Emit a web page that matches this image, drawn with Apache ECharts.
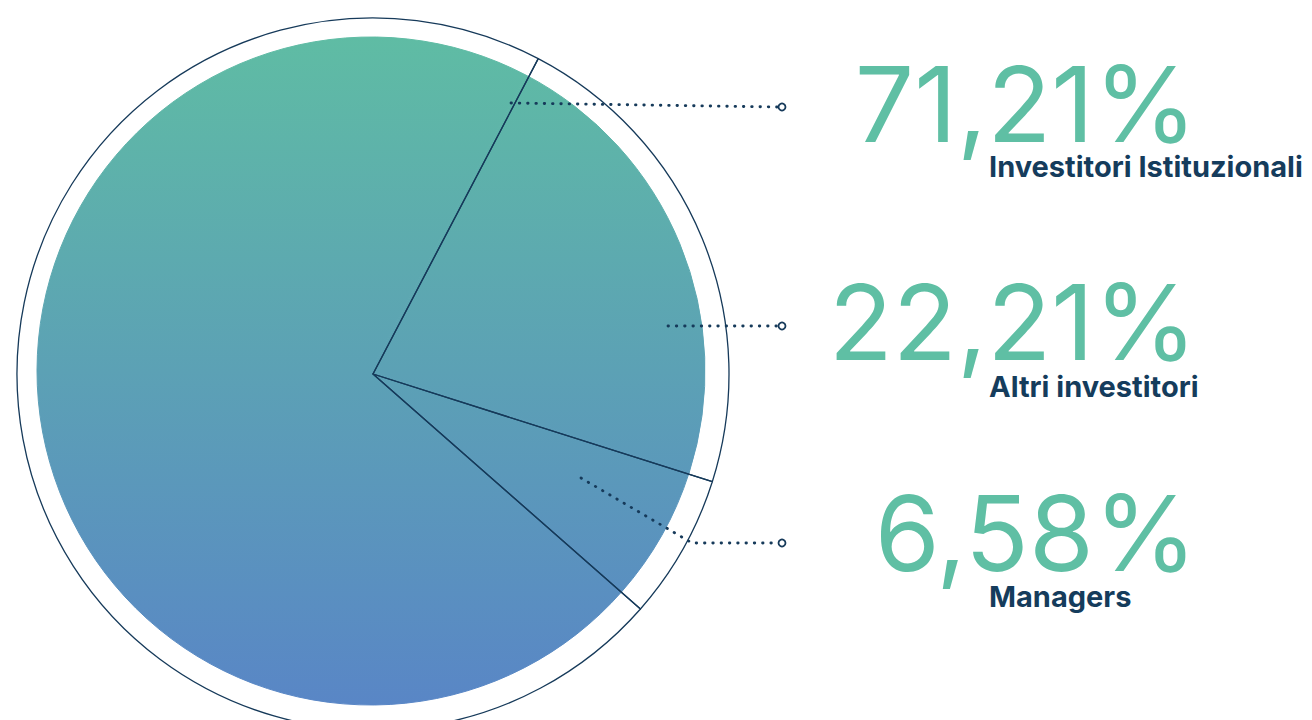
<!DOCTYPE html>
<html>
<head>
<meta charset="utf-8">
<script src="https://cdn.jsdelivr.net/npm/echarts@6/dist/echarts.min.js"></script>
<style>
html,body{margin:0;padding:0;background:#fff;}
#main{width:1312px;height:720px;}
</style>
</head>
<body>
<div id="main"></div>
<script>
// quote di possesso
var categorie = ['Investitori Istituzionali', 'Altri investitori', 'Managers'];
var valori = [71.21, 22.21, 6.58];

// impaginazione
var centroTorta = [371, 371], raggio = 334;
var centro = [373, 374], raggioCornice = 356;
var inizio = 318.7;
var fineLinea = 782;                       // x del pallino
var righe = [107, 326, 543];               // y delle linee guida
var partenze = [[511, 103], [668, 326], [581, 478]];
var gomiti = [null, null, [692, 543]];
var numeroX = 1197;
var numeroY = [103, 321, 532];
var nomeX = 989;
var nomeY = [166, 386, 596];

var blu = '#163a5a';
var verde = '#5fbfa4';

function etichetta(v){
	return v.toFixed(2).replace('.', ',') + '%';
}

var dati = [];
for (var i = 0; i < categorie.length; i++) {
	dati.push({name: categorie[i], value: valori[i]});
}

function sfumatura(){
	return {
		type: 'linear', x: 0, y: centroTorta[1] - raggio, x2: 0, y2: centroTorta[1] + raggio, global: true,
		colorStops: [{offset: 0, color: '#5fbca4'}, {offset: 1, color: '#5986c6'}]
	};
}

var myChart = echarts.init(document.getElementById('main'), null, {renderer: 'svg'});

var option = {
	animation: false,
	graphic: righe.map(function(y){
		return {type: 'circle', z: 100, shape: {cx: fineLinea, cy: y, r: 3.5},
			style: {fill: '#fff', stroke: blu, lineWidth: 1.8}};
	}),
	series: [{
		// riempimento sfumato
		type: 'pie',
		name: 'quote',
		z: 1,
		center: centroTorta,
		radius: [0, raggio],
		startAngle: inizio,
		silent: true,
		data: dati,
		itemStyle: {color: sfumatura(), borderColor: sfumatura(), borderWidth: 1},
		label: {show: false},
		labelLine: {show: false}
	}, {
		// cornice e raggi + nomi
		type: 'pie',
		name: 'cornice',
		z: 2,
		center: centro,
		radius: [0, raggioCornice],
		startAngle: inizio,
		silent: true,
		avoidLabelOverlap: false,
		data: dati,
		itemStyle: {color: 'rgba(0,0,0,0)', borderColor: blu, borderWidth: 1.3},
		label: {
			show: true,
			formatter: '{b}',
			overflow: 'none',
			color: '#153c5c', fontFamily: 'Inter', fontSize: 29, fontWeight: 700, lineHeight: 29
		},
		labelLine: {show: false},
		labelLayout: function(p){
			return {x: nomeX, y: nomeY[p.dataIndex], align: 'left', verticalAlign: 'middle'};
		}
	}, {
		// percentuali e linee guida
		type: 'pie',
		name: 'percentuali',
		z: 5,
		center: centro,
		radius: [0, raggio],
		startAngle: inizio,
		silent: true,
		avoidLabelOverlap: false,
		data: dati,
		itemStyle: {color: 'rgba(0,0,0,0)', borderWidth: 0},
		label: {
			show: true,
			overflow: 'none',
			formatter: function(p){ return etichetta(p.value); },
			color: verde, fontFamily: 'Inter', fontSize: 105, fontWeight: 400, lineHeight: 105
		},
		labelLine: {
			show: true,
			lineStyle: {color: blu, width: 2.8, type: [0.5, 7.8], cap: 'round'}
		},
		labelLayout: function(p){
			var i = p.dataIndex;
			var a = partenze[i];
			var b = [fineLinea - 4, righe[i]];
			var m = gomiti[i] || [(a[0] + b[0]) / 2, (a[1] + b[1]) / 2];
			return {x: numeroX, y: numeroY[i], align: 'right', verticalAlign: 'middle', labelLinePoints: [a, m, b]};
		}
	}]
};

myChart.setOption(option);
</script>
</body>
</html>
